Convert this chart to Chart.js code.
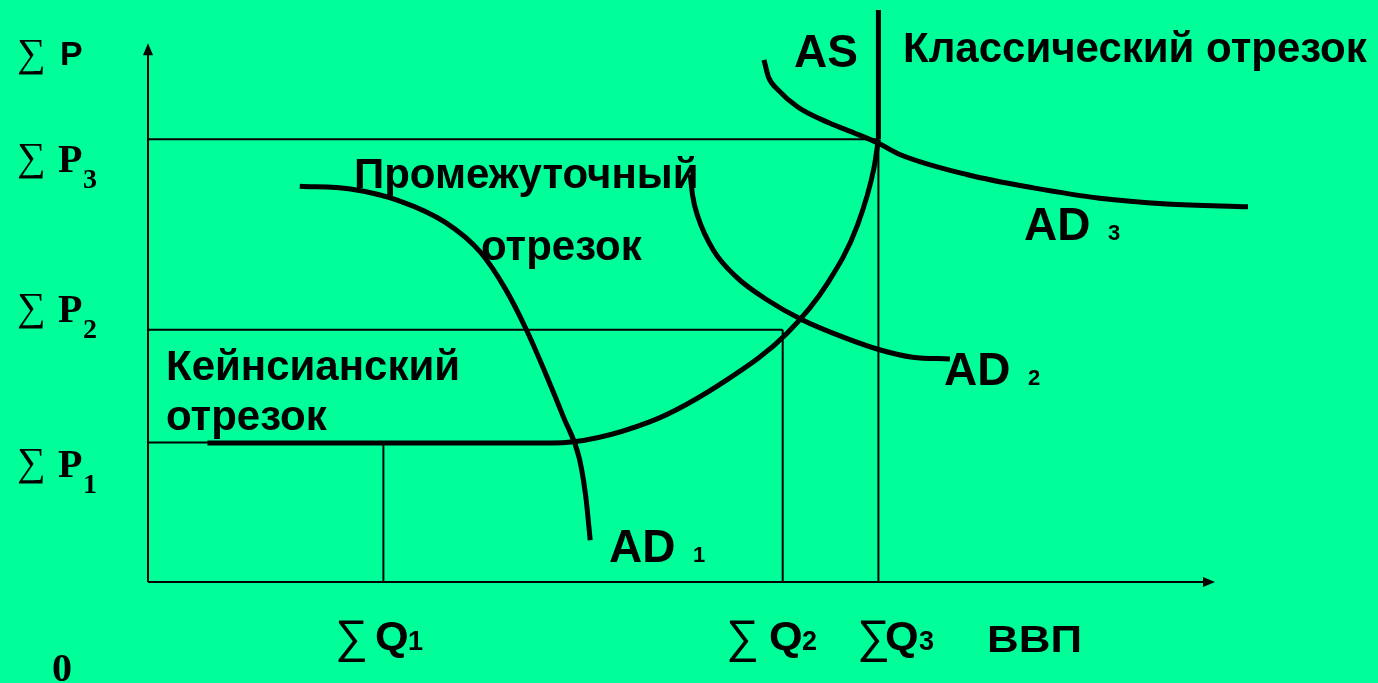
<!DOCTYPE html>
<html>
<head>
<meta charset="utf-8">
<script src="https://cdn.jsdelivr.net/npm/chart.js@4"></script>
<style>
  html, body { margin: 0; padding: 0; background: #00ff99; }
  #wrap { width: 1378px; height: 683px; }
</style>
</head>
<body>
<div id="wrap"><canvas id="chart" width="1378" height="683"></canvas></div>
<script>
// price levels ΣP1..ΣP3 and output levels ΣQ1..ΣQ3 (0..100 units on each axis)
const priceLevels  = [24.4, 44.1, 77.4];
const outputLevels = [21.4, 57.7, 66.4];
const levelIndex   = ['1', '2', '3'];

// aggregate supply: flat (Keynesian) + rising (intermediate) part
const asQ = [5.4, 36.7, 45.6, 52.9, 58.1, 61.8, 64.5, 66.0, 66.4];
const asP = [24.3, 24.3, 28.0, 35.7, 43.5, 52.3, 62.4, 72.4, 77.4];
// classical (vertical) part
const asVertQ = [66.4, 66.4];
const asVertP = [77.4, 100];

// aggregate demand curves
const ad1Q = [13.8, 18.4, 22.9, 27.0, 30.2, 32.5, 34.4, 36.2, 37.8, 39.2, 39.8, 40.2];
const ad1P = [69.2, 68.7, 66.6, 62.9, 57.7, 51.2, 44.1, 36.2, 28.7, 21.7, 14.9, 7.3];
const ad2Q = [49.3, 49.5, 50.0, 51.4, 53.5, 56.3, 59.5, 63.2, 66.5, 69.5, 72.9];
const ad2P = [71.2, 67.7, 63.8, 58.0, 53.3, 49.3, 45.8, 42.8, 40.6, 39.3, 39.0];
const ad3Q = [56.0, 56.4, 57.3, 59.1, 62.0, 64.2, 66.4, 68.4, 74.5, 80.5, 86.5, 92.6, 100];
const ad3P = [91.3, 88.3, 86.0, 83.0, 80.2, 78.5, 76.7, 74.7, 71.2, 68.9, 67.1, 66.1, 65.6];

const toPts = (xs, ys) => xs.map((x, i) => ({ x: x, y: ys[i] }));

const curve = (xs, ys) => ({
  data: toPts(xs, ys),
  borderColor: '#000',
  borderWidth: 5,
  cubicInterpolationMode: 'monotone',
  pointRadius: 0,
  fill: false
});

const straight = (pts, w) => ({
  data: pts,
  borderColor: '#000',
  borderWidth: w,
  tension: 0,
  pointRadius: 0,
  fill: false
});

const guides = [];
priceLevels.forEach((p, i) => {
  const q = outputLevels[i];
  guides.push(straight([{ x: 0, y: p }, { x: q, y: p }], 2));
  guides.push(straight([{ x: q, y: 0 }, { x: q, y: p }], 2));
});

// axes with arrow heads
const axesPlugin = {
  id: 'axes',
  beforeDatasetsDraw(chart) {
    const { ctx, scales: { x, y } } = chart;
    const x0 = x.getPixelForValue(0), y0 = y.getPixelForValue(0);
    const xe = x.getPixelForValue(97), ye = y.getPixelForValue(94.2);
    ctx.save();
    ctx.strokeStyle = '#000';
    ctx.fillStyle = '#000';
    ctx.lineWidth = 2;
    ctx.beginPath();
    ctx.moveTo(x0, y0); ctx.lineTo(xe - 8, y0);
    ctx.moveTo(x0, y0); ctx.lineTo(x0, ye + 10);
    ctx.stroke();
    ctx.beginPath();
    ctx.moveTo(xe, y0); ctx.lineTo(xe - 12, y0 - 5); ctx.lineTo(xe - 12, y0 + 5);
    ctx.closePath(); ctx.fill();
    ctx.beginPath();
    ctx.moveTo(x0, ye); ctx.lineTo(x0 - 5, ye + 12); ctx.lineTo(x0 + 5, ye + 12);
    ctx.closePath(); ctx.fill();
    ctx.restore();
  }
};

const SANS = '"Liberation Sans", Arial, sans-serif';
const SERIF = '"Liberation Serif", "Times New Roman", serif';

// draw a piece of text, optionally stretched horizontally
function put(ctx, text, font, x, y, sx) {
  ctx.save();
  ctx.font = font;
  ctx.translate(x, y);
  ctx.scale(sx || 1, 1);
  ctx.fillText(text, 0, 0);
  ctx.restore();
}

const textPlugin = {
  id: 'texts',
  afterDraw(chart) {
    const ctx = chart.ctx;
    ctx.save();
    ctx.fillStyle = '#000';
    ctx.textBaseline = 'alphabetic';
    ctx.textAlign = 'left';

    // y axis labels
    put(ctx, '\u2211', '40px ' + SERIF, 17, 66);
    put(ctx, 'P', 'bold 34px ' + SANS, 60, 65);
    const pBase = [477, 322, 172];
    pBase.forEach((b, i) => {
      put(ctx, '\u2211', '40px ' + SERIF, 17, b - 2);
      put(ctx, 'P', 'bold 40px ' + SERIF, 58, b);
      put(ctx, levelIndex[i], 'bold 28px ' + SERIF, 83, b + 16);
    });
    put(ctx, '0', 'bold 40px ' + SERIF, 52, 681);

    // x axis labels
    const qSig = [335, 726, 857];
    const qQ = [375, 769, 885];
    const qSub = [408, 802, 919];
    qSig.forEach((sx, i) => {
      put(ctx, '\u2211', '46px ' + SANS, sx, 652);
      put(ctx, 'Q', 'bold 40px ' + SANS, qQ[i], 650, 1.08);
      put(ctx, levelIndex[i], 'bold 27px ' + SANS, qSub[i], 650);
    });
    put(ctx, 'ВВП', 'bold 36px ' + SANS, 987, 652, 1.22);

    // segments and curve names
    put(ctx, 'AS', 'bold 46px ' + SANS, 794, 67);
    put(ctx, 'Классический отрезок', 'bold 42px ' + SANS, 903, 62);
    put(ctx, 'Промежуточный', 'bold 42px ' + SANS, 354, 188);
    put(ctx, 'отрезок', 'bold 42px ' + SANS, 481, 260);
    put(ctx, 'Кейнсианский', 'bold 42px ' + SANS, 166, 380);
    put(ctx, 'отрезок', 'bold 42px ' + SANS, 166, 430);
    const adX = [609, 944, 1024], adY = [562, 385, 240];
    adX.forEach((ax, i) => {
      put(ctx, 'AD', 'bold 46px ' + SANS, ax, adY[i]);
      put(ctx, levelIndex[i], 'bold 22px ' + SANS, ax + 84, adY[i]);
    });
    ctx.restore();
  }
};

new Chart(document.getElementById('chart'), {
  type: 'line',
  data: {
    datasets: [
      ...guides,
      curve(asQ, asP),
      straight(toPts(asVertQ, asVertP), 5),
      curve(ad1Q, ad1P),
      curve(ad2Q, ad2P),
      curve(ad3Q, ad3P)
    ]
  },
  options: {
    responsive: false,
    animation: false,
    layout: { padding: { left: 148, right: 130, top: 10, bottom: 101 } },
    scales: {
      x: { type: 'linear', min: 0, max: 100, display: false },
      y: { type: 'linear', min: 0, max: 100, display: false }
    },
    plugins: { legend: { display: false }, tooltip: { enabled: false } }
  },
  plugins: [axesPlugin, textPlugin]
});
</script>
</body>
</html>
